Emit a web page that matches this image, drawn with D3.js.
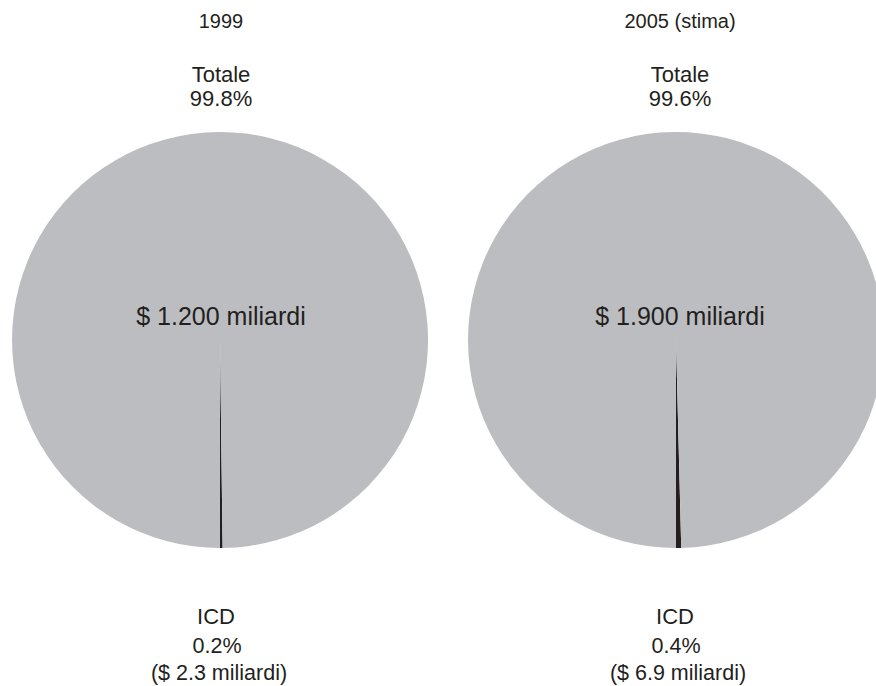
<!DOCTYPE html>
<html>
<head>
    <meta charset="utf-8">
    <title>Mercato totale e ICD</title>
    <script src="https://d3js.org/d3.v7.min.js"></script>
    <style>
        body {
            padding: 0;
            margin: 0;
            background: #fff;
        }

        text {
            font-family: "Liberation Sans", Arial, Helvetica, sans-serif;
            fill: #231f20;
        }
    </style>
</head>
<body>
    <svg id="svg" width="876" height="686"></svg>

    <script>
        // Data.
        const years = ["1999", "2005 (stima)"];
        const totalShare = [99.8, 99.6];
        const icdShare = [0.2, 0.4];
        const totalAmount = ["$ 1.200 miliardi", "$ 1.900 miliardi"];
        const icdAmount = ["($ 2.3 miliardi)", "($ 6.9 miliardi)"];

        const svg = d3.select("svg");
        const radius = 208;
        const cy = 340;

        // Pie centres and label columns placed with point scales.
        const x = d3.scalePoint().domain(years).range([220, 676]);
        const xl = d3.scalePoint().domain(years).range([221, 680]);
        const color = d3.scaleOrdinal().domain(["ICD", "Totale"]).range(["#231f20", "#bcbdc1"]);
        const arc = d3.arc().innerRadius(0).outerRadius(radius);

        years.forEach((year, i) => {
            const slices = [
                { name: "ICD", value: icdShare[i] },
                { name: "Totale", value: totalShare[i] }
            ];
            // ICD wedge ends exactly at the bottom of the pie.
            const start = Math.PI - (icdShare[i] / 100) * 2 * Math.PI;
            const pie = d3.pie().sort(null).value(d => d.value)
                .startAngle(start).endAngle(start + 2 * Math.PI);

            svg.append("g")
                .attr("transform", `translate(${x(year)}, ${cy})`)
                .selectAll("path")
                .data(pie(slices))
                .join("path")
                .attr("fill", d => color(d.data.name))
                .attr("d", arc);

            // Labels.
            const g = svg.append("g")
                .attr("transform", `translate(${xl(year)}, ${cy})`);

            g.append("text")
                .attr("text-anchor", "middle")
                .attr("y", -312)
                .attr("style", "font-size: 20px")
                .text(year);

            g.append("text")
                .attr("text-anchor", "middle")
                .attr("y", -258)
                .attr("style", "font-size: 22px")
                .text("Totale");

            g.append("text")
                .attr("text-anchor", "middle")
                .attr("y", -234)
                .attr("style", "font-size: 22px")
                .text(totalShare[i].toFixed(1) + "%");

            g.append("text")
                .attr("text-anchor", "middle")
                .attr("y", -15)
                .attr("style", "font-size: 25px")
                .text(totalAmount[i]);

            g.append("text")
                .attr("text-anchor", "middle")
                .attr("x", -5)
                .attr("y", 284)
                .attr("style", "font-size: 22px")
                .text("ICD");

            g.append("text")
                .attr("text-anchor", "middle")
                .attr("x", -4)
                .attr("y", 313)
                .attr("style", "font-size: 21.5px")
                .text(icdShare[i].toFixed(1) + "%");

            g.append("text")
                .attr("text-anchor", "middle")
                .attr("x", -2)
                .attr("y", 340)
                .attr("style", "font-size: 21.5px")
                .text(icdAmount[i]);
        });
    </script>
</body>
</html>
